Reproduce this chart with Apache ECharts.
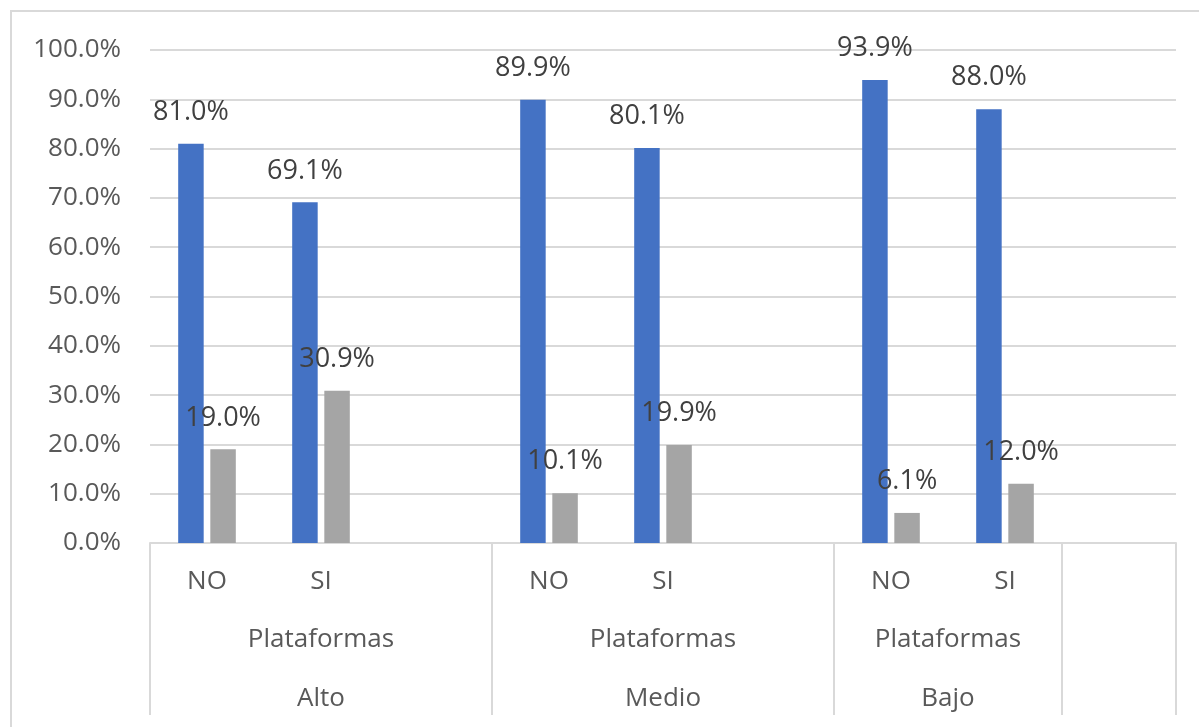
<!DOCTYPE html>
<html>
<head>
<meta charset="utf-8">
<script src="https://cdn.jsdelivr.net/npm/echarts@6/dist/echarts.min.js"></script>
<style>
  html, body { margin: 0; padding: 0; background: #ffffff; }
  #chart { position: absolute; left: 0; top: 0; width: 1199px; height: 727px; }
  #frame { position: absolute; left: 10px; top: 10px; width: 1199px; height: 727px;
           border-left: 2px solid #D9D9D9; border-top: 2px solid #D9D9D9; pointer-events: none; }
</style>
</head>
<body>
<div id="chart"></div>
<div id="frame"></div>
<script>
// Bottom-row categories (one slot per bar pair, blank slots separate the groups)
const categories = ['NO', 'SI', '', 'NO', 'SI', '', 'NO', 'SI', ''];
// Outer grouping rows and how many slots each group spans
const groupNames = ['Alto', 'Medio', 'Bajo', ''];
const groupSizes = [3, 3, 2, 1];
const middleRow = ['Plataformas', 'Plataformas', 'Plataformas', ''];
// Percentages per slot
const serieBlue = [81.0, 69.1, null, 89.9, 80.1, null, 93.9, 88.0, null];
const serieGray = [19.0, 30.9, null, 10.1, 19.9, null, 6.1, 12.0, null];
const yTicks = [0, 10, 20, 30, 40, 50, 60, 70, 80, 90, 100];

const FONT = '"Open Sans", "Noto Sans", sans-serif';
const GRID_COLOR = '#D9D9D9';
const AXIS_TEXT = '#595959';

// group boundaries (slot index where each group starts) and centres
const starts = [];
const centres = [];
let acc = 0;
groupSizes.forEach(function (s) { starts.push(acc); centres.push(acc + s / 2); acc += s; });
const totalSlots = acc;

function groupLabel(row) {
  return function (v) {
    for (let i = 0; i < centres.length; i++) {
      if (Math.abs(v - centres[i]) < 1e-6) return row[i];
    }
    return '';
  };
}

function pct(v) { return v.toFixed(1) + '%'; }

const labelStyle = {
  show: true,
  position: 'top',
  distance: 18,
  fontFamily: FONT,
  fontSize: 27,
  lineHeight: 27,
  color: '#404040',
  formatter: function (p) { return p.value == null ? '' : pct(p.value); }
};

const groupAxisBase = {
  type: 'value',
  gridIndex: 0,
  position: 'bottom',
  offset: 0,
  min: 0,
  max: totalSlots,
  interval: 0.5,
  axisLine: { show: false },
  axisTick: { show: false },
  splitLine: { show: false }
};

const chart = echarts.init(document.getElementById('chart'), null, { renderer: 'canvas' });
chart.setOption({
  backgroundColor: '#ffffff',
  animation: false,
  grid: { left: 150, right: 23, top: 50, bottom: 184 },
  xAxis: [
    {
      type: 'category',
      data: categories,
      position: 'bottom',
      axisLine: { show: true, lineStyle: { color: GRID_COLOR, width: 2 } },
      axisTick: {
        show: true,
        length: 172,
        interval: function (idx) { return starts.indexOf(idx) >= 0; },
        lineStyle: { color: GRID_COLOR, width: 2 }
      },
      axisLabel: { interval: 0, margin: 26, fontFamily: FONT, fontSize: 26, color: AXIS_TEXT },
      splitLine: { show: false }
    },
    Object.assign({}, groupAxisBase, {
      axisLabel: { margin: 84, fontFamily: FONT, fontSize: 26, color: AXIS_TEXT,
                   formatter: groupLabel(middleRow) }
    }),
    Object.assign({}, groupAxisBase, {
      axisLabel: { margin: 143, fontFamily: FONT, fontSize: 26, color: AXIS_TEXT,
                   formatter: groupLabel(groupNames) }
    })
  ],
  yAxis: {
    type: 'value',
    min: yTicks[0],
    max: yTicks[yTicks.length - 1],
    interval: yTicks[1] - yTicks[0],
    axisLine: { show: false },
    axisTick: { show: false },
    axisLabel: { margin: 29, fontFamily: FONT, fontSize: 26, color: AXIS_TEXT, formatter: pct },
    splitLine: { lineStyle: { color: GRID_COLOR, width: 2 } }
  },
  series: [
    {
      type: 'bar',
      xAxisIndex: 0,
      data: serieBlue,
      barWidth: 25.5,
      barGap: '26%',
      itemStyle: { color: '#4472C4' },
      label: labelStyle
    },
    {
      type: 'bar',
      xAxisIndex: 0,
      data: serieGray,
      barWidth: 25.5,
      barGap: '26%',
      itemStyle: { color: '#A5A5A5' },
      label: labelStyle
    }
  ]
});
</script>
</body>
</html>
